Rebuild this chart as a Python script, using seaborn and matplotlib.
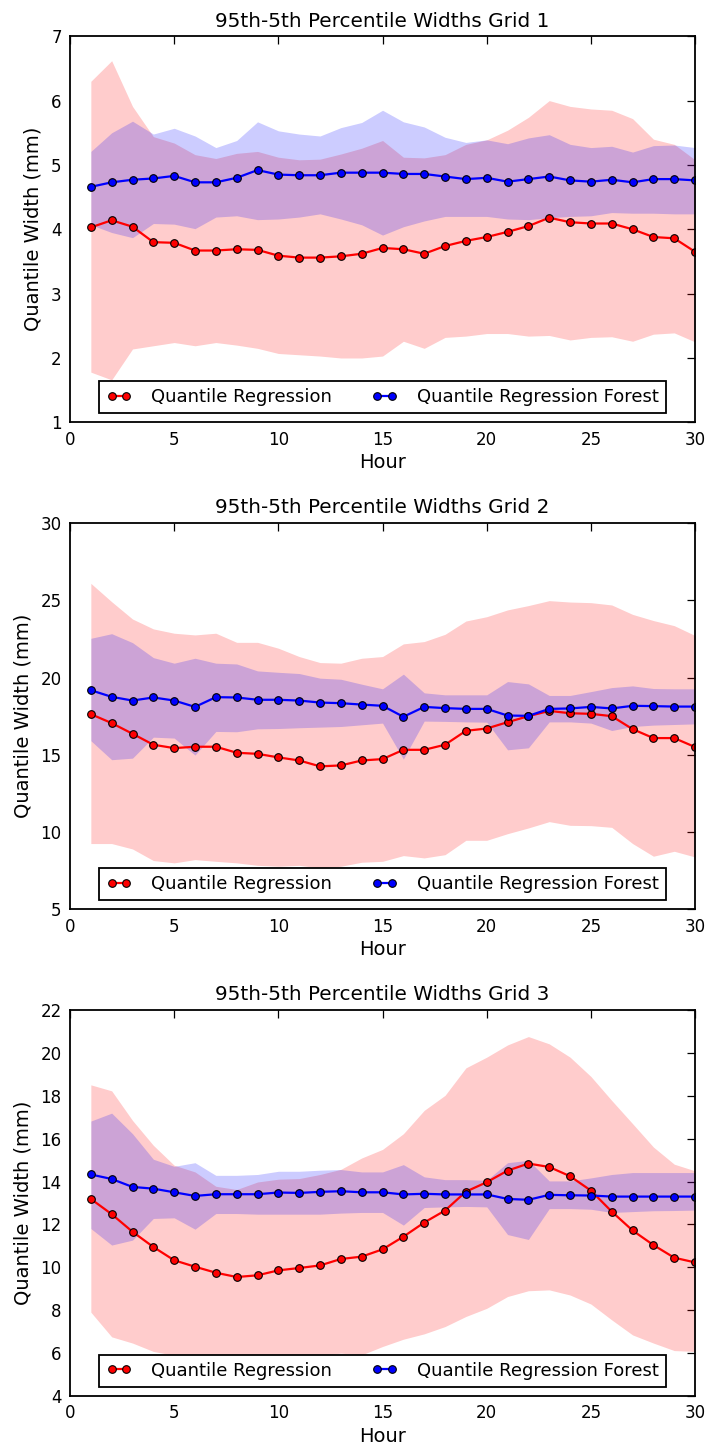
import numpy as np
import pandas as pd
import matplotlib
matplotlib.use("Agg")
import matplotlib.pyplot as plt
import seaborn as sns

hours = list(range(1, 31))

# ---------------- Grid 1 ----------------
g1_qr_mid = [4.03, 4.14, 4.04, 3.80, 3.79, 3.67, 3.67, 3.69, 3.68, 3.59,
             3.56, 3.56, 3.58, 3.62, 3.71, 3.69, 3.62, 3.74, 3.82, 3.88,
             3.96, 4.05, 4.18, 4.11, 4.09, 4.09, 4.00, 3.88, 3.86, 3.65]
g1_qr_hi = [6.30, 6.62, 5.91, 5.44, 5.34, 5.16, 5.10, 5.18, 5.21, 5.12,
            5.08, 5.09, 5.17, 5.26, 5.38, 5.12, 5.11, 5.16, 5.32, 5.39,
            5.54, 5.74, 6.00, 5.91, 5.87, 5.85, 5.72, 5.40, 5.32, 5.08]
g1_qr_lo = [1.78, 1.66, 2.14, 2.19, 2.24, 2.19, 2.24, 2.20, 2.15, 2.07,
            2.05, 2.03, 2.00, 2.00, 2.03, 2.26, 2.15, 2.32, 2.34, 2.38,
            2.38, 2.34, 2.35, 2.28, 2.32, 2.33, 2.26, 2.37, 2.39, 2.25]
g1_qrf_mid = [4.66, 4.73, 4.77, 4.79, 4.83, 4.73, 4.73, 4.80, 4.92, 4.85,
              4.84, 4.84, 4.88, 4.88, 4.88, 4.86, 4.86, 4.82, 4.78, 4.80,
              4.74, 4.78, 4.82, 4.76, 4.74, 4.77, 4.73, 4.78, 4.78, 4.76]
g1_qrf_hi = [5.21, 5.50, 5.68, 5.48, 5.57, 5.45, 5.27, 5.38, 5.67, 5.53,
             5.48, 5.45, 5.58, 5.66, 5.85, 5.67, 5.59, 5.43, 5.35, 5.39,
             5.33, 5.42, 5.47, 5.32, 5.27, 5.29, 5.20, 5.30, 5.31, 5.27]
g1_qrf_lo = [4.07, 3.95, 3.87, 4.09, 4.08, 4.01, 4.19, 4.21, 4.15, 4.16,
             4.19, 4.24, 4.16, 4.07, 3.91, 4.04, 4.13, 4.20, 4.20, 4.20,
             4.16, 4.15, 4.18, 4.20, 4.21, 4.26, 4.25, 4.25, 4.24, 4.24]

# ---------------- Grid 2 ----------------
g2_qr_mid = [17.63, 17.05, 16.36, 15.65, 15.43, 15.52, 15.52, 15.13, 15.06, 14.83,
             14.63, 14.25, 14.31, 14.63, 14.72, 15.32, 15.32, 15.65, 16.55, 16.70,
             17.11, 17.50, 17.84, 17.69, 17.65, 17.50, 16.66, 16.08, 16.08, 15.50]
g2_qr_hi = [26.10, 24.91, 23.79, 23.15, 22.87, 22.76, 22.87, 22.28, 22.28, 21.90,
            21.36, 20.97, 20.93, 21.25, 21.36, 22.18, 22.33, 22.80, 23.66, 23.94,
            24.38, 24.66, 24.98, 24.89, 24.85, 24.70, 24.09, 23.69, 23.36, 22.72]
g2_qr_lo = [9.25, 9.25, 8.90, 8.15, 8.00, 8.21, 8.10, 8.00, 7.84, 7.78,
            7.84, 7.67, 7.78, 8.04, 8.10, 8.47, 8.32, 8.53, 9.46, 9.46,
            9.89, 10.26, 10.67, 10.43, 10.41, 10.30, 9.25, 8.43, 8.75, 8.38]
g2_qrf_mid = [19.18, 18.75, 18.51, 18.71, 18.51, 18.10, 18.73, 18.71, 18.56, 18.56,
              18.51, 18.38, 18.34, 18.25, 18.17, 17.46, 18.10, 18.02, 17.97, 17.97,
              17.54, 17.52, 17.97, 18.00, 18.10, 18.00, 18.17, 18.15, 18.12, 18.12]
g2_qrf_hi = [22.54, 22.84, 22.26, 21.29, 20.93, 21.25, 20.93, 20.88, 20.43, 20.34,
             20.26, 19.96, 19.89, 19.57, 19.27, 20.22, 19.01, 18.88, 18.88, 18.88,
             19.74, 19.59, 18.84, 18.84, 19.09, 19.35, 19.46, 19.29, 19.27, 19.27]
g2_qrf_lo = [15.91, 14.68, 14.78, 16.14, 16.08, 14.98, 16.51, 16.49, 16.68, 16.70,
             16.75, 16.79, 16.83, 16.94, 17.05, 14.72, 17.18, 17.16, 17.13, 17.11,
             15.32, 15.45, 17.13, 17.13, 17.05, 16.57, 16.83, 16.92, 16.96, 17.00]

# ---------------- Grid 3 ----------------
g3_qr_mid = [13.19, 12.48, 11.66, 10.95, 10.33, 10.03, 9.75, 9.55, 9.63, 9.86,
             9.97, 10.09, 10.39, 10.50, 10.84, 11.43, 12.09, 12.65, 13.53, 13.97,
             14.51, 14.84, 14.68, 14.25, 13.58, 12.60, 11.72, 11.04, 10.45, 10.23]
g3_qr_hi = [18.51, 18.23, 16.85, 15.69, 14.76, 14.45, 13.78, 13.63, 13.98, 14.11,
            14.14, 14.33, 14.57, 15.10, 15.50, 16.23, 17.32, 18.02, 19.30, 19.80,
            20.37, 20.76, 20.42, 19.80, 18.90, 17.78, 16.70, 15.61, 14.81, 14.50]
g3_qr_lo = [7.91, 6.76, 6.47, 6.08, 5.90, 5.85, 5.80, 5.80, 5.82, 5.85,
            5.88, 5.90, 6.00, 5.92, 6.31, 6.65, 6.90, 7.24, 7.71, 8.09,
            8.64, 8.91, 8.95, 8.71, 8.29, 7.55, 6.85, 6.47, 6.12, 6.08]
g3_qrf_mid = [14.33, 14.12, 13.75, 13.67, 13.50, 13.33, 13.41, 13.41, 13.41, 13.49,
              13.47, 13.52, 13.55, 13.50, 13.50, 13.40, 13.43, 13.40, 13.40, 13.40,
              13.19, 13.15, 13.38, 13.36, 13.35, 13.30, 13.30, 13.30, 13.30, 13.30]
g3_qrf_hi = [16.82, 17.19, 16.23, 15.04, 14.71, 14.88, 14.29, 14.29, 14.33, 14.48,
             14.48, 14.53, 14.56, 14.45, 14.45, 14.79, 14.22, 14.09, 14.09, 14.06,
             14.88, 14.99, 14.03, 14.03, 14.17, 14.33, 14.42, 14.42, 14.42, 14.42]
g3_qrf_lo = [11.81, 11.04, 11.27, 12.28, 12.31, 11.78, 12.51, 12.51, 12.48, 12.48,
             12.48, 12.48, 12.53, 12.56, 12.56, 11.97, 12.79, 12.82, 12.84, 12.82,
             11.53, 11.30, 12.74, 12.74, 12.71, 12.56, 12.60, 12.64, 12.65, 12.67]

titles = ["95th-5th Percentile Widths Grid 1",
          "95th-5th Percentile Widths Grid 2",
          "95th-5th Percentile Widths Grid 3"]
x_ticks = [0, 5, 10, 15, 20, 25, 30]
y_ticks = [[1, 2, 3, 4, 5, 6, 7],
           [5, 10, 15, 20, 25, 30],
           [4, 6, 8, 10, 12, 14, 16, 18, 20, 22]]
series_names = ["Quantile Regression", "Quantile Regression Forest"]

grids = [
    (g1_qr_mid, g1_qr_lo, g1_qr_hi, g1_qrf_mid, g1_qrf_lo, g1_qrf_hi),
    (g2_qr_mid, g2_qr_lo, g2_qr_hi, g2_qrf_mid, g2_qrf_lo, g2_qrf_hi),
    (g3_qr_mid, g3_qr_lo, g3_qr_hi, g3_qrf_mid, g3_qrf_lo, g3_qrf_hi),
]

sns.set_style("white")
plt.rcParams.update({
    "font.family": ["DejaVu Sans"],
    "xtick.direction": "in",
    "ytick.direction": "in",
    "xtick.top": True,
    "ytick.right": True,
    "xtick.major.size": 6,
    "ytick.major.size": 6,
    "xtick.major.width": 0.9,
    "ytick.major.width": 0.9,
    "xtick.color": "black",
    "ytick.color": "black",
    "axes.edgecolor": "black",
    "axes.linewidth": 1.3,
    "text.color": "black",
    "axes.labelcolor": "black",
})

fig, axes = plt.subplots(3, 1, figsize=(7.1, 14.5), dpi=100)
fig.subplots_adjust(left=0.0986, right=0.979, top=0.975, bottom=0.0372, hspace=0.261)

for ax, (qm, ql, qh, fm, fl, fh), title, yt in zip(axes, grids, titles, y_ticks):
    ax.fill_between(hours, ql, qh, color="red", alpha=0.2, linewidth=0)
    ax.fill_between(hours, fl, fh, color="blue", alpha=0.2, linewidth=0)
    df_qr = pd.DataFrame({"Hour": hours, "Width": qm})
    df_qrf = pd.DataFrame({"Hour": hours, "Width": fm})
    sns.lineplot(data=df_qr, x="Hour", y="Width", ax=ax, color="red", marker="o",
                 markersize=5.5, markerfacecolor="red", markeredgecolor="black",
                 markeredgewidth=0.8, linewidth=1.6, label=series_names[0])
    sns.lineplot(data=df_qrf, x="Hour", y="Width", ax=ax, color="blue", marker="o",
                 markersize=5.5, markerfacecolor="blue", markeredgecolor="black",
                 markeredgewidth=0.8, linewidth=1.6, label=series_names[1])
    ax.set_xlim(0, 30)
    ax.set_ylim(yt[0], yt[-1])
    ax.set_xticks(x_ticks)
    ax.set_yticks(yt)
    ax.tick_params(labelsize=12, pad=6)
    ax.set_title(title, fontsize=14.4, pad=7)
    ax.set_xlabel("Hour", fontsize=14, labelpad=3)
    ax.set_ylabel("Quantile Width (mm)", fontsize=14, labelpad=6)
    for s in ax.spines.values():
        s.set_visible(True)
        s.set_color("black")
    leg = ax.legend(loc="lower center", ncol=2, fontsize=13, numpoints=2,
                    handlelength=1.4, handletextpad=1.1, columnspacing=2.2,
                    fancybox=False, framealpha=1, edgecolor="black",
                    borderaxespad=0.5)
    leg.get_frame().set_linewidth(1.3)

fig.savefig("out.png", dpi=100, facecolor="white")
